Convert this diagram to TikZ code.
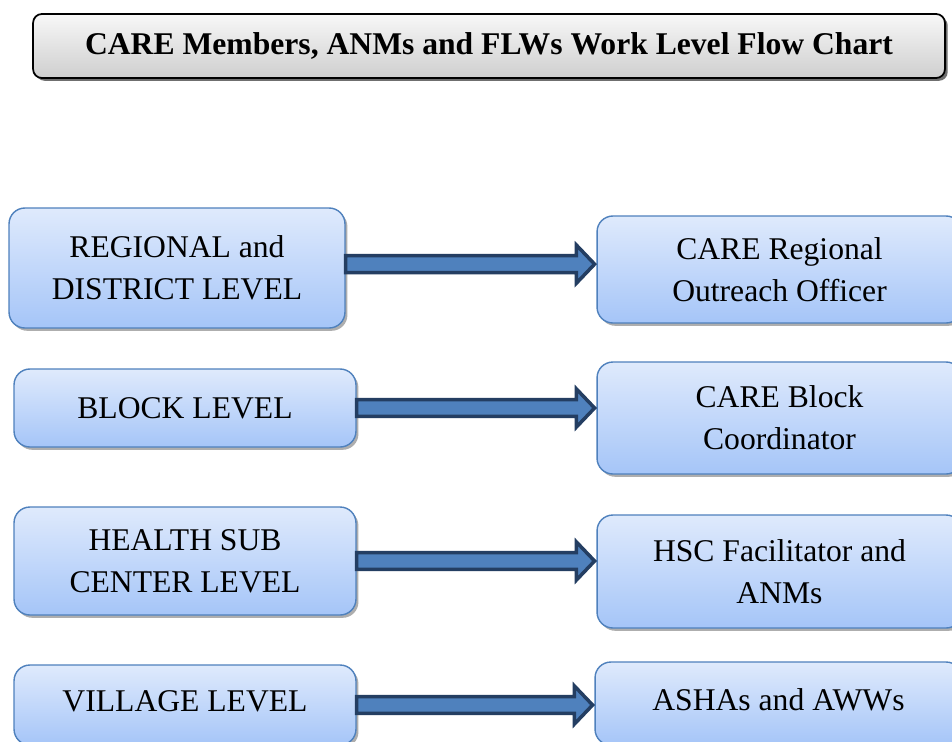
\documentclass[tikz,border=0pt]{standalone}
\usepackage{fontspec}
\setmainfont{Liberation Serif}
\usetikzlibrary{calc,shadows}
\definecolor{boxline}{RGB}{79,129,189}
\definecolor{boxtop}{RGB}{223,234,252}
\definecolor{boxbottom}{RGB}{165,197,248}
\definecolor{arrowfill}{RGB}{79,129,189}
\definecolor{arrowline}{RGB}{36,62,98}
\tikzset{
  titlebox/.style={draw=black, line width=1pt, rounded corners=5pt,
    top color=gray!6, bottom color=gray!38,
    drop shadow={shadow xshift=1.6pt, shadow yshift=-1.6pt, fill=black!70, opacity=0.8},
    font=\bfseries\fontsize{18}{22}\selectfont, inner sep=0pt},
  levelbox/.style={draw=boxline, line width=0.8pt, rounded corners=9pt,
    top color=boxtop, bottom color=boxbottom,
    drop shadow={shadow xshift=1.4pt, shadow yshift=-1.6pt, fill=black!45, opacity=0.7},
    font=\fontsize{18}{23.8}\selectfont, align=center, inner sep=0pt},
  flowarrow/.style={draw=arrowline, fill=arrowfill, line width=2pt, line join=miter}
}
% block arrow from the east side of #2 to the west side of #3, raised by #1
\newcommand\flowarrow[3][0pt]{%
  \draw[flowarrow] let \p1=(#2.east), \p2=(#3.west), \n1={\y1+#1} in
    (\x1,\n1+4.8pt) -- (\x2-11.3pt,\n1+4.8pt) -- (\x2-11.3pt,\n1+10.8pt)
    -- (\x2-1pt,\n1) -- (\x2-11.3pt,\n1-10.8pt) -- (\x2-11.3pt,\n1-4.8pt)
    -- (\x1,\n1-4.8pt) -- cycle;}
\begin{document}
\begin{tikzpicture}[x=0.02cm,y=-0.02cm]
  \clip (0,0) rectangle (952,741);
  \fill[white] (0,0) rectangle (952,741);

  % heading
  \node[titlebox, minimum width=18.24cm, minimum height=1.28cm] (title) at (489,46)
    {CARE Members, ANMs and FLWs Work Level Flow Chart};

  % left column: work levels
  \node[levelbox, minimum width=6.72cm, minimum height=2.4cm] (L1) at (177,268)
    {REGIONAL and\\DISTRICT LEVEL};
  \node[levelbox, minimum width=6.84cm, minimum height=1.56cm] (L2) at (185,408)
    {BLOCK LEVEL};
  \node[levelbox, minimum width=6.84cm, minimum height=2.16cm] (L3) at (185,561)
    {HEALTH SUB\\CENTER LEVEL};
  \node[levelbox, minimum width=6.84cm, minimum height=1.6cm] (L4) at (185,705)
    {\raisebox{0.15cm}{VILLAGE LEVEL}};

  % right column: CARE members and workers
  \node[levelbox, minimum width=7.3cm, minimum height=2.14cm] (R1) at (779.5,269.5)
    {CARE Regional\\Outreach Officer};
  \node[levelbox, minimum width=7.3cm, minimum height=2.24cm] (R2) at (779.5,418)
    {CARE Block\\Coordinator};
  \node[levelbox, minimum width=7.3cm, minimum height=2.26cm] (R3) at (779.5,571.5)
    {HSC Facilitator and\\ANMs};
  \node[levelbox, minimum width=7.34cm, minimum height=1.66cm] (R4) at (778.5,703.5)
    {\raisebox{0.14cm}{ASHAs and AWWs}};

  % connecting block arrows
  \flowarrow[2.2pt]{L1}{R1}
  \flowarrow{L2}{R2}
  \flowarrow{L3}{R3}
  \flowarrow{L4}{R4}
\end{tikzpicture}
\end{document}
